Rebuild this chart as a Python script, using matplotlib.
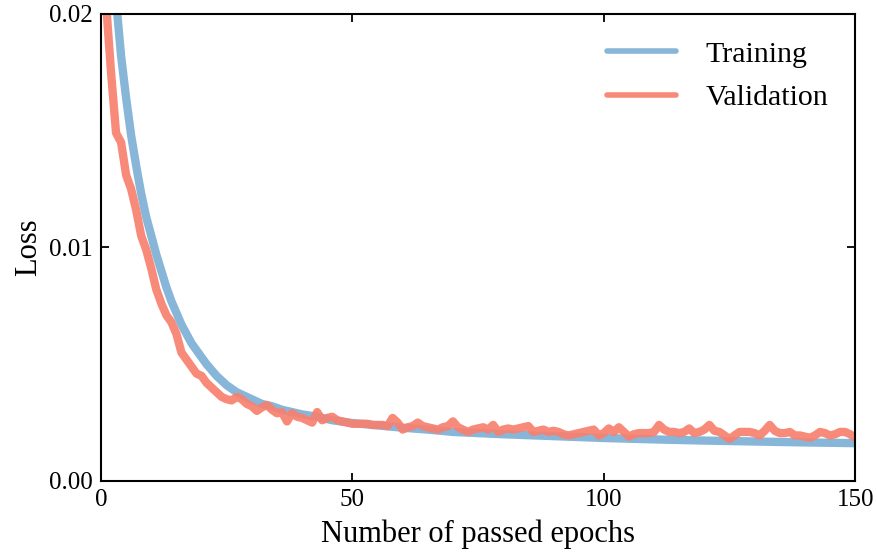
import numpy as np
import matplotlib
matplotlib.use("Agg")
import matplotlib.pyplot as plt

plt.rcParams['font.family'] = ['Liberation Serif', 'DejaVu Serif']
plt.rcParams['mathtext.fontset'] = 'stix'

# Training loss (smooth curve)
train_epochs = [1, 2, 3, 4, 5, 6, 7, 8, 9, 10, 11, 12, 13, 14, 15, 16, 17, 18, 19, 20,
                21, 22, 23, 24, 25, 26, 27, 28, 29, 30, 32, 34, 36, 38, 40, 43, 46, 50,
                55, 60, 65, 70, 80, 90, 100, 110, 120, 130, 140, 150]
train_loss = [26.0, 23.2, 20.6, 18.2, 16.4, 14.8, 13.5, 12.3, 11.3, 10.5, 9.7, 9.0, 8.3,
              7.7, 7.2, 6.7, 6.3, 5.9, 5.6, 5.3, 5.0, 4.75, 4.5, 4.3, 4.1, 3.95, 3.8, 3.7,
              3.6, 3.5, 3.3, 3.2, 3.05, 2.95, 2.85, 2.75, 2.6, 2.48, 2.38, 2.28, 2.2, 2.1,
              2.0, 1.92, 1.84, 1.78, 1.73, 1.69, 1.65, 1.62]

# Validation loss, one value per epoch (1..150), in units of 1e-3
val_loss = [
    20.5, 17.5, 14.9, 14.5, 13.1, 12.5, 11.6, 10.5, 9.9, 9.1,
    8.2, 7.6, 7.1, 6.8, 6.3, 5.5, 5.2, 4.9, 4.6, 4.5,
    4.2, 4.0, 3.8, 3.6, 3.5, 3.45, 3.6, 3.5, 3.3, 3.2,
    3.0, 3.15, 3.25, 3.05, 2.9, 2.95, 2.55, 2.9, 2.75, 2.7,
    2.6, 2.5, 2.95, 2.6, 2.7, 2.75, 2.6, 2.55, 2.5, 2.45,
    2.45, 2.45, 2.45, 2.4, 2.4, 2.4, 2.35, 2.7, 2.5, 2.2,
    2.3, 2.35, 2.5, 2.35, 2.3, 2.25, 2.2, 2.3, 2.35, 2.55,
    2.3, 2.2, 2.1, 2.2, 2.25, 2.3, 2.2, 2.4, 2.1, 2.2,
    2.25, 2.2, 2.25, 2.3, 2.35, 2.1, 2.15, 2.2, 2.1, 2.15,
    2.1, 2.0, 1.95, 2.0, 2.05, 2.1, 2.15, 2.2, 1.95, 2.05,
    2.25, 2.1, 2.3, 2.1, 1.9, 2.0, 2.05, 2.05, 2.05, 2.1,
    2.4, 2.2, 2.1, 2.1, 2.05, 2.1, 2.25, 2.05, 2.1, 2.2,
    2.4, 2.15, 2.1, 1.95, 1.8, 1.95, 2.1, 2.1, 2.1, 2.05,
    1.95, 2.15, 2.4, 2.15, 2.05, 2.05, 2.1, 1.95, 1.95, 1.9,
    1.85, 1.95, 2.1, 2.05, 1.95, 2.0, 2.1, 2.1, 2.0, 1.85,
]
val_epochs = np.arange(1, len(val_loss) + 1)

fig = plt.figure(figsize=(8.78, 5.57), dpi=100)
ax = fig.add_axes([0.115, 0.1365, 0.859, 0.8385])

ax.plot(train_epochs, np.array(train_loss) * 1e-3, color='#88b6d8', lw=6,
        solid_capstyle='round', solid_joinstyle='round', label='Training')
ax.plot(val_epochs, np.array(val_loss) * 1e-3, color='#f8806f', lw=6, alpha=0.92,
        solid_capstyle='round', solid_joinstyle='round', label='Validation')

ax.set_xlim(0, 150)
ax.set_ylim(0, 0.02)
ax.set_xticks([0, 50, 100, 150])
ax.set_yticks([0, 0.01, 0.02])
ax.set_yticklabels(['0.00', '0.01', '0.02'])
ax.tick_params(direction='in', length=6, width=1.3, top=True, right=True,
               labelsize=18, pad=6)
for s in ax.spines.values():
    s.set_linewidth(1.5)

ax.set_xlabel('Number of passed epochs', fontsize=22, labelpad=6)
ax.set_ylabel('Loss', fontsize=22, labelpad=4)

leg = ax.legend(loc='upper right', frameon=False, fontsize=21.5, handlelength=2.3,
                handletextpad=1.0, labelspacing=0.55, borderaxespad=0.5)
for line in leg.get_lines():
    line.set_linewidth(4)

fig.savefig('out.png', dpi=100)
